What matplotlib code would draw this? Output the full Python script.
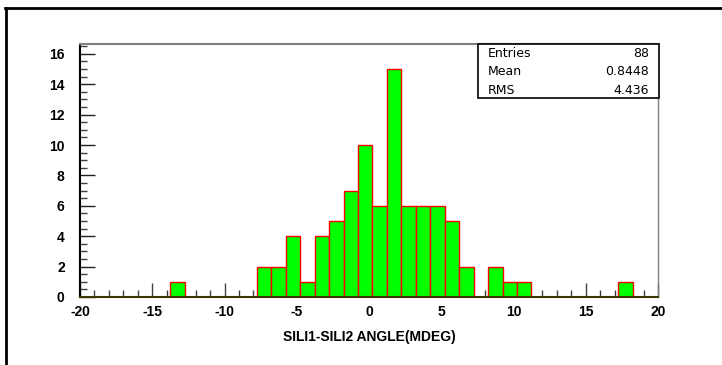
import numpy as np
import matplotlib.pyplot as plt
from matplotlib.lines import Line2D
from matplotlib.ticker import MultipleLocator

# histogram contents: bin centres (width 1) and counts
bin_centres = [-13.26, -7.26, -6.26, -5.26, -4.26, -3.26, -2.26, -1.26, -0.26,
               0.74, 1.74, 2.74, 3.74, 4.74, 5.74, 6.74, 8.74, 9.74, 10.74, 17.74]
counts = [1, 2, 2, 4, 1, 4, 5, 7, 10, 6, 15, 6, 6, 6, 5, 2, 2, 1, 1, 1]
stat_names = ["Entries", "Mean", "RMS"]
stat_values = ["88", "0.8448", "4.436"]

plt.rcParams['font.family'] = ['Liberation Sans', 'DejaVu Sans']
plt.rcParams['axes.unicode_minus'] = False

fig = plt.figure(figsize=(7.22, 3.65), dpi=100)
ax = fig.add_axes([80 / 722, 68 / 365, 578 / 722, 253 / 365])

ax.bar(bin_centres, counts, width=1.0, align='center',
       color='#00ff00', edgecolor='#ff0000', linewidth=1.0, zorder=2)

ax.set_xlim(-20, 20)
ax.set_ylim(0, 16.65)

ax.xaxis.set_major_locator(MultipleLocator(5))
ax.xaxis.set_minor_locator(MultipleLocator(1))
ax.yaxis.set_major_locator(MultipleLocator(2))
ax.yaxis.set_minor_locator(MultipleLocator(0.5))

ax.tick_params(axis='x', which='major', direction='in', length=10, width=1,
               color='#404040', pad=6, labelsize=10)
ax.tick_params(axis='x', which='minor', direction='in', length=5, width=1,
               color='#404040')
ax.tick_params(axis='y', which='major', direction='in', length=11, width=1,
               color='#202020', pad=11, labelsize=10)
ax.tick_params(axis='y', which='minor', direction='in', length=5, width=1,
               color='#404040')
ax.tick_params(top=False, right=False)
for lab in ax.get_xticklabels() + ax.get_yticklabels():
    lab.set_fontweight('bold')

ax.spines['left'].set_color('black')
ax.spines['left'].set_linewidth(1.5)
ax.spines['bottom'].set_color('#3a3a00')
ax.spines['bottom'].set_linewidth(1.5)
ax.spines['top'].set_color('#808080')
ax.spines['top'].set_linewidth(1.5)
ax.spines['right'].set_color('#808080')
ax.spines['right'].set_linewidth(1.0)

ax.set_xlabel("SILI1-SILI2 ANGLE(MDEG)", fontsize=10, fontweight='bold',
              labelpad=8)

# statistics box in the upper right corner
bx0, bx1 = 478 / 722, 659 / 722
by0, by1 = 1 - 98 / 365, 1 - 44 / 365
fig.patches.append(plt.Rectangle((bx0, by0), bx1 - bx0, by1 - by0,
                                 transform=fig.transFigure, facecolor='white',
                                 edgecolor='black', linewidth=1.2, zorder=5))
for i, (name, val) in enumerate(zip(stat_names, stat_values)):
    y = 1 - (53.5 + 18.3 * i) / 365
    fig.text(488 / 722, y, name, fontsize=9, va='center', ha='left', zorder=6,
             family='DejaVu Sans')
    fig.text(649 / 722, y, val, fontsize=9, va='center', ha='right', zorder=6,
             family='DejaVu Sans')

# outer canvas border
fig.lines.append(Line2D([5 / 722, 1.0], [1 - 7.5 / 365, 1 - 7.5 / 365],
                        transform=fig.transFigure, color='black', linewidth=2))
fig.lines.append(Line2D([6 / 722, 6 / 722], [0, 1 - 7.5 / 365],
                        transform=fig.transFigure, color='black', linewidth=2))

fig.savefig("out.png", dpi=100)
